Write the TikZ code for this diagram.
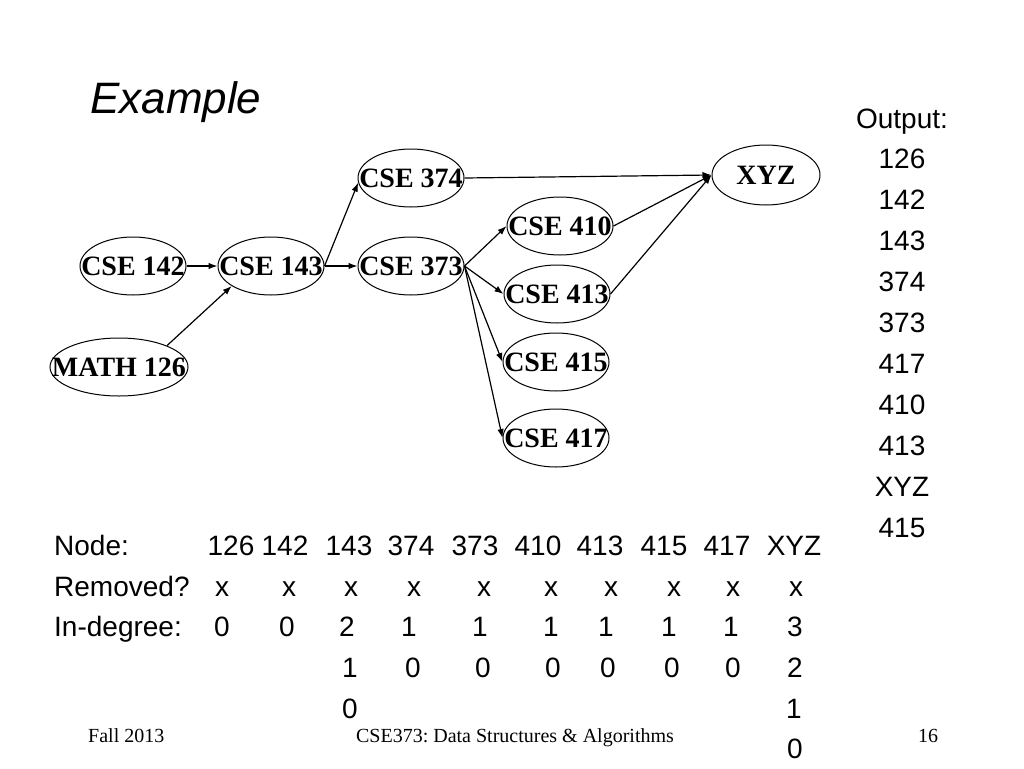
\documentclass[tikz,border=0pt]{standalone}
\usepackage{fontspec}
\setmainfont{Liberation Serif}
\setsansfont{Liberation Sans}
\usetikzlibrary{shapes.geometric, arrows.meta}
\frenchspacing

\tikzset{
  course/.style={ellipse, draw, line width=1pt, inner sep=-30pt, minimum width=106pt, minimum height=58pt, font=\fontsize{28}{30}\selectfont\bfseries},
  prereq/.style={->, line width=1.2pt},
  tab/.style={anchor=base, inner sep=0pt, font=\sffamily\fontsize{28}{30}\selectfont},
  foot/.style={anchor=base, inner sep=0pt, font=\fontsize{20}{22}\selectfont},
}

\begin{document}
\begin{tikzpicture}[x=1pt, y=-1pt, >={Latex[length=9pt,width=6.5pt]}]
\useasboundingbox (0,0) rectangle (1024,768);

\node[anchor=base west, inner sep=0pt, font=\sffamily\itshape\fontsize{44}{48}\selectfont] (title) at (90,113) {Example}; % title

% courses
\node[course, minimum width=138pt] (m126) at (119,367) {MATH 126};
\node[course] (c142) at (133,266) {CSE 142};
\node[course] (c143) at (271,266) {CSE 143};
\node[course] (c374) at (411,178) {CSE 374};
\node[course] (c373) at (411,266) {CSE 373};
\node[course] (c410) at (560,226) {CSE 410};
\node[course] (c413) at (557,294) {CSE 413};
\node[course] (c415) at (556,362) {CSE 415};
\node[course] (c417) at (556,438) {CSE 417};
\node[course, minimum width=108pt, minimum height=60pt] (xyz) at (766,175) {XYZ};

% prerequisites
\draw[prereq] (c142) -- (c143);
\draw[prereq] (m126.24) -- (c143.207);
\draw[prereq] (c143.east) -- (c374.185);
\draw[prereq] (c143) -- (c373);
\draw[prereq] (c374.east) -- (xyz.west);
\draw[prereq] (c410.east) -- (xyz.west);
\draw[prereq] (c413.east) -- (xyz.west);
\foreach \t in {c410,c413,c415,c417}
  \draw[prereq] (c373.east) -- (\t.west);

% output order
\node[tab] (out) at (902,128) {Output:};
\foreach \v [count=\i] in {126,142,143,374,373,417,410,413,XYZ,415}
  \node[tab] (out\i) at (902,{128+40.9*\i}) {\v};

% table
\node[tab, anchor=base west] (rnode) at (54,555) {Node:};
\node[tab, anchor=base west] (rrem) at (54,596) {Removed?};
\node[tab, anchor=base west] (rdeg) at (54,636) {In-degree:};
\foreach \x/\v [count=\i] in {231/126,285/142,349/143,411/374,475/373,538/410,600/413,664/415,727/417,794/XYZ}
  \node[tab] (h\i) at (\x,555) {\v};
\foreach \x [count=\i] in {222,289,351,414,484,551,611,674,733,796}
  \node[tab] (x\i) at (\x,596) {x};
\foreach \x/\v [count=\i] in {222/0,287/0,347/2,409/1,480/1,551/1,606/1,669/1,731/1,795/3}
  \node[tab] (d\i) at (\x,636) {\v};
\foreach \x/\v [count=\i] in {350/1,413/0,483/0,553/0,608/0,672/0,733/0,795/2}
  \node[tab] (e\i) at (\x,677) {\v};
\node[tab] (f1) at (350,718) {0};
\node[tab] (f2) at (794,718) {1};
\node[tab] (g1) at (795,758) {0};

% footer
\node[foot, anchor=base west] (fall) at (88,742) {Fall 2013};
\node[foot] (coursename) at (515,742) {CSE373: Data Structures \& Algorithms};
\node[foot] (page) at (928,742) {16};

\end{tikzpicture}
\end{document}
